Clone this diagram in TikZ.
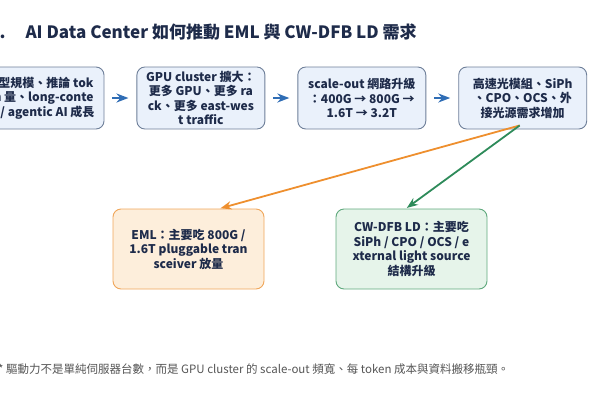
\documentclass[tikz,border=0pt]{standalone}
\usepackage{fontspec}
\setmainfont{Noto Sans CJK TC}
\usetikzlibrary{positioning,arrows.meta}
\definecolor{inkblue}{HTML}{1E2B4A}
\definecolor{stepfill}{HTML}{EAF1FB}
\definecolor{stepline}{HTML}{6E7F99}
\definecolor{flowblue}{HTML}{2F6DB5}
\definecolor{emlfill}{HTML}{FDEEDB}
\definecolor{emlline}{HTML}{F0A65A}
\definecolor{emlarrow}{HTML}{EE8F2E}
\definecolor{cwfill}{HTML}{E6F4EA}
\definecolor{cwline}{HTML}{5FA97D}
\definecolor{cwarrow}{HTML}{2E8B5A}
\definecolor{notegray}{HTML}{555555}

\begin{document}
\begin{tikzpicture}[
    x=1pt, y=-1pt,
    >=Stealth,
    every node/.style={align=center, text=inkblue},
    node distance=32pt,
    stepbox/.style={rectangle, draw=stepline, fill=stepfill, rounded corners=8pt,
                    line width=0.9pt, minimum width=128pt, minimum height=62pt,
                    inner sep=2pt, font=\bfseries\fontsize{12}{14.5}\selectfont},
    emlbox/.style={stepbox, draw=emlline, fill=emlfill,
                   minimum width=151pt, minimum height=80pt},
    cwbox/.style={stepbox, draw=cwline, fill=cwfill,
                  minimum width=151pt, minimum height=80pt},
    chain/.style={->, draw=flowblue, line width=2pt, shorten >=8pt, shorten <=8pt},
    feed/.style={->, line width=1.8pt, shorten >=1pt}
  ]
  \useasboundingbox (0,0) rectangle (600,400);
  \clip (0,0) rectangle (600,400);

  % Title.
  \node[anchor=base west, inner sep=0pt, font=\bfseries\fontsize{17}{20}\selectfont]
    (title) at (-11,38) {1.\hspace{20pt}AI Data Center 如何推動 EML 與 CW-DFB LD 需求};

  % Top row: demand chain.
  \node[stepbox]                 (scale)  at (40,98)
    {模型規模、推論 tok\\en 量、long-conte\\xt / agentic AI 成長};
  \node[stepbox, right=of scale] (gpu)    {GPU cluster 擴大：\\更多 GPU、更多 ra\\ck、更多 east-wes\\t traffic};
  \node[stepbox, right=of gpu]   (net)    {scale-out 網路升級\\：400G → 800G →\\1.6T → 3.2T};
  \node[stepbox, right=of net]   (optics) {高速光模組、SiPh\\、CPO、OCS、外\\接光源需求增加};

  % Bottom row: the two laser types.
  \node[emlbox] (eml) at (188.5,249) {EML：主要吃 800G /\\1.6T pluggable tran\\sceiver 放量};
  \node[cwbox]  (cw)  at (411.5,249) {CW-DFB LD：主要吃\\SiPh / CPO / OCS / e\\xternal light source\\結構升級};

  % Chain edges.
  \draw[chain] (scale) -- (gpu);
  \draw[chain] (gpu) -- (net);
  \draw[chain] (net) -- (optics);

  % Split towards EML and CW-DFB.
  \coordinate (fork) at ([xshift=-3pt,yshift=4pt]optics.south);
  \draw[feed, emlarrow] (fork) -- ([xshift=31pt]eml.north);
  \draw[feed, cwarrow]  (fork) -- ([xshift=-5.5pt]cw.north);

  % Footnote.
  \node[anchor=base west, inner sep=0pt, text=notegray, font=\fontsize{11.5}{14}\selectfont]
    (note) at (-2,373) {* 驅動力不是單純伺服器台數，而是 GPU cluster 的 scale-out 頻寬、每 token 成本與資料搬移瓶頸。};
\end{tikzpicture}
\end{document}
